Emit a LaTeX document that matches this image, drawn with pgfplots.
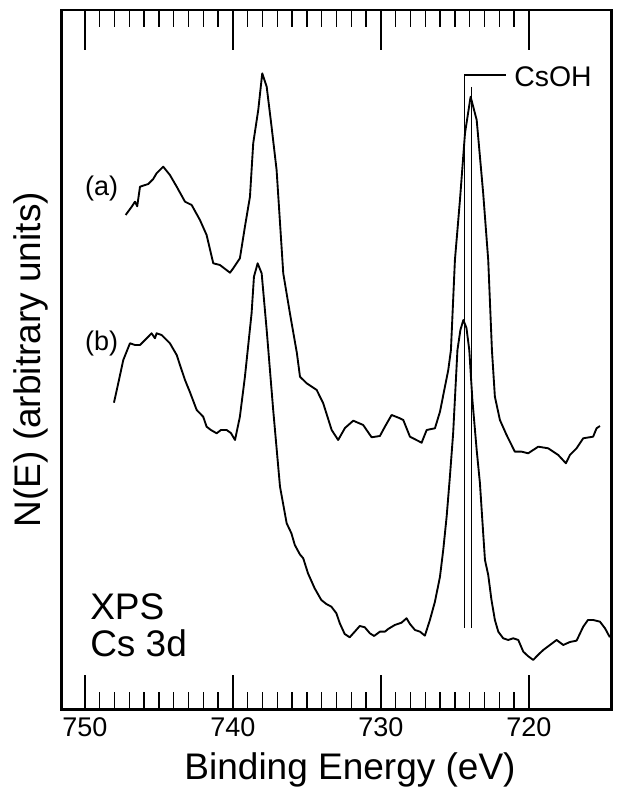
\documentclass[border=0pt]{standalone}
\usepackage{fontspec}
\setmainfont{Liberation Sans}
\usepackage{pgfplots}
\pgfplotsset{compat=1.18}

% spectrum (a), upper trace
\pgfplotstableread{
ev val
747.25 494.3
746.84 502.6
746.62 507.6
746.47 503.0
746.28 522.6
745.72 525.3
745.40 530.0
745.16 536.0
744.71 542.6
744.26 534.3
743.80 522.6
743.24 507.6
742.79 504.3
742.23 489.3
741.78 474.3
741.33 446.0
740.88 444.3
740.50 440.0
740.20 436.6
739.98 441.0
739.53 451.0
739.19 482.6
738.85 512.6
738.63 566.0
738.29 599.3
738.02 636.0
737.72 622.6
737.39 582.6
737.05 539.3
736.60 436.0
736.15 396.0
735.68 356.3
735.47 332.6
735.02 326.0
734.34 319.3
733.90 306.0
733.33 279.3
732.89 269.3
732.43 281.3
731.87 288.6
731.20 284.3
730.63 272.0
730.07 273.3
729.73 282.6
729.28 294.3
728.72 291.0
728.49 289.3
728.04 272.6
727.25 266.6
726.91 279.3
726.35 281.0
726.01 297.6
725.45 339.3
725.27 359.3
725.00 449.3
724.66 509.3
724.32 576.0
723.94 612.6
723.53 589.3
723.09 516.0
722.75 449.3
722.50 359.3
722.30 312.6
721.96 289.3
721.51 274.3
720.95 257.6
720.49 257.6
720.05 256.0
719.37 262.6
718.70 261.0
718.02 254.3
717.50 246.0
717.23 254.3
716.78 261.0
716.33 271.0
715.66 272.6
715.43 281.0
715.20 283.3
}\specA

% spectrum (b), lower trace
\pgfplotstableread{
ev val
748.04 306.6
747.75 326.0
747.41 349.3
746.96 366.0
746.62 364.3
746.28 364.3
745.72 372.6
745.50 376.0
745.27 371.0
745.16 376.0
744.82 374.3
744.26 366.0
743.80 354.3
743.58 344.3
743.24 329.3
742.91 317.3
742.45 299.3
742.01 292.6
741.78 282.6
741.49 279.3
741.10 276.0
740.81 279.3
740.43 279.3
740.14 276.3
739.86 269.3
739.53 292.6
739.19 332.6
738.74 396.0
738.58 432.6
738.33 446.0
738.06 436.0
737.72 379.3
737.28 299.3
736.82 222.6
736.37 186.0
736.05 176.0
735.82 164.3
735.48 155.0
735.25 151.0
734.93 136.0
734.48 121.0
734.03 109.3
733.69 105.3
733.35 102.6
733.01 96.0
732.78 86.0
732.45 75.3
732.11 72.0
731.77 77.6
731.43 83.3
731.09 82.0
730.75 76.0
730.46 73.3
730.07 77.6
729.73 77.6
729.51 80.3
729.06 84.3
728.61 86.6
728.27 91.0
728.04 85.3
727.70 79.3
727.36 77.6
727.03 73.6
726.69 89.3
726.35 107.6
726.01 132.6
725.79 159.3
725.56 192.6
725.34 232.6
725.12 276.0
724.83 359.3
724.63 379.3
724.43 389.3
724.22 381.3
724.03 359.3
723.82 309.3
723.53 259.3
723.31 226.0
723.09 176.0
722.97 149.3
722.75 134.3
722.53 109.3
722.30 89.3
722.07 77.6
721.74 71.0
721.40 69.3
721.06 71.0
720.72 69.3
720.38 57.6
720.07 53.3
719.71 49.3
719.39 54.3
719.03 59.3
718.58 64.3
718.13 69.3
717.68 64.3
717.23 67.3
716.78 68.6
716.33 82.6
716.01 89.3
715.66 89.3
715.20 87.6
714.86 81.0
714.53 72.0
}\specB

\pgfplotsset{xpsframe/.style={
    scale only axis,
    width=412.7pt, height=524.5pt,
    x dir=reverse,
    xmin=714.39, xmax=751.57,
    ymin=0, ymax=699.3,
    xtick={720,730,740,750},
    ytick=\empty,
    tick align=inside,
    every tick/.style={black, line width=1pt},
}}

\begin{document}
\begin{tikzpicture}
\begin{axis}[
    xpsframe,
    minor x tick num=9,
    xtick pos=both,
    xticklabel pos=lower,
    major tick length=25.5pt,
    minor tick length=12.75pt,
    axis line style={line width=2.2pt},
    /pgf/number format/assume math mode=true,
    /pgf/number format/1000 sep={},
    tick label style={font=\fontsize{20.25}{24}\selectfont},
    xticklabel style={yshift=-3pt},
    xlabel={Binding Energy (eV)},
    ylabel={N(E) (arbitrary units)},
    label style={font=\fontsize{27.75}{32}\selectfont},
    xlabel style={at={(axis description cs:0.524,0)}, anchor=base, yshift=-53pt},
    ylabel style={at={(axis description cs:-0.0394,0.5)}, anchor=base},
    clip=false,
]
\addplot[black, line width=1.4pt, line join=round] table[x=ev, y=val] {\specA};
\addplot[black, line width=1.4pt, line join=round] table[x=ev, y=val] {\specB};

\draw[line width=0.8pt] (axis cs:724.37,81.3) -- (axis cs:724.37,634.3) -- (axis cs:721.55,634.3);
\draw[line width=0.8pt] (axis cs:723.89,622.3) -- (axis cs:723.89,81.3);
\node[anchor=base west, inner sep=0pt, font=\fontsize{21.3}{25}\selectfont] at (axis cs:721.0,622.6) {CsOH};

\node[font=\fontsize{20.25}{24}\selectfont] at (axis cs:748.87,520.8) {(a)};
\node[font=\fontsize{20.25}{24}\selectfont] at (axis cs:748.87,366) {(b)};
\node[anchor=base west, inner sep=0pt, font=\fontsize{27.75}{32}\selectfont] at (axis cs:749.66,89.3) {XPS};
\node[anchor=base west, inner sep=0pt, font=\fontsize{27.75}{32}\selectfont] at (axis cs:749.66,52.6) {Cs 3d};

\coordinate (bl) at (rel axis cs:0,0);
\coordinate (tr) at (rel axis cs:1,1);
\end{axis}
% longer major ticks along the top edge
\begin{axis}[
    xpsframe,
    xtick pos=upper,
    xticklabels={},
    minor x tick num=0,
    major tick length=30pt,
    axis line style={draw=none},
]
\end{axis}
\pgfresetboundingbox
\path ([shift={(-46.3pt,-59.8pt)}]bl) rectangle ([shift={(9pt,7.5pt)}]tr);
\end{tikzpicture}
\end{document}
